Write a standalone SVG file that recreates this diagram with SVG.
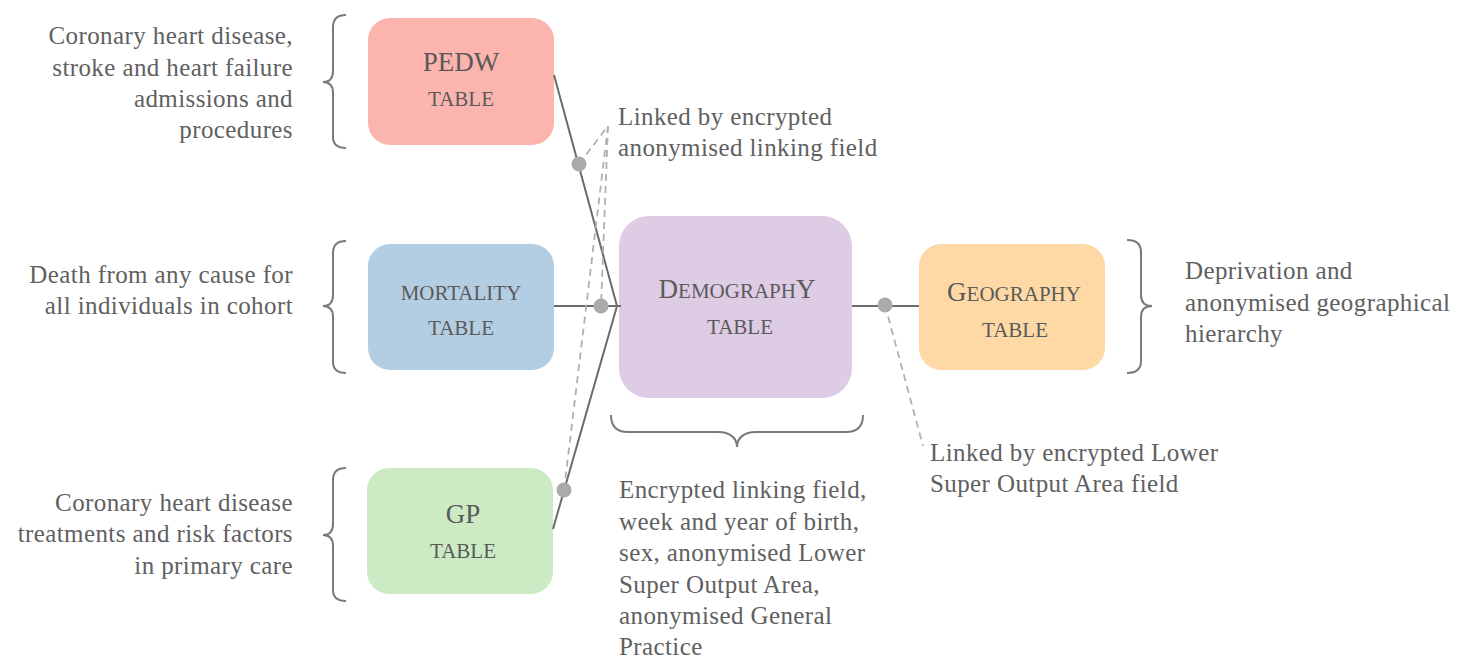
<svg xmlns="http://www.w3.org/2000/svg" width="1461" height="661" viewBox="0 0 1461 661">
  <style>
    .txt { font-family: "Liberation Serif", "Times New Roman", serif; font-size: 25px; fill: #606060; letter-spacing: 0.4px; }
    .end { text-anchor: end; }
    .lbl { font-family: "Liberation Serif", "Times New Roman", serif; fill: #5a5a5a; text-anchor: middle; }
    .big { font-size: 27px; }
    .sc { font-size: 21px; }
    .link { stroke: #6b6b6b; stroke-width: 2; fill: none; }
    .dash { stroke: #b0b0b0; stroke-width: 1.8; stroke-dasharray: 7 5; fill: none; }
    .dot { fill: #aaaaaa; }
    .brace { stroke: #7a7a7a; stroke-width: 2; fill: none; }
  </style>

  <!-- tables -->
  <g id="pedw">
    <rect x="368" y="18" width="186" height="127" rx="22" fill="#fbb4ae"/>
    <text class="lbl big" x="461" y="71">PEDW</text>
    <text class="lbl sc" x="461" y="106">TABLE</text>
  </g>
  <g id="mortality">
    <rect x="368" y="244" width="186" height="126" rx="22" fill="#b3cde3"/>
    <text class="lbl sc" x="461" y="300">MORTALITY</text>
    <text class="lbl sc" x="461" y="335">TABLE</text>
  </g>
  <g id="gp">
    <rect x="367" y="468" width="186" height="126" rx="22" fill="#ccebc5"/>
    <text class="lbl big" x="463" y="523">GP</text>
    <text class="lbl sc" x="463" y="558">TABLE</text>
  </g>
  <g id="demography">
    <rect x="619" y="216" width="233" height="182" rx="30" fill="#decbe4"/>
    <text class="lbl" x="737" y="298"><tspan class="big">D</tspan><tspan class="sc">EMOGRAPH</tspan><tspan class="big">Y</tspan></text>
    <text class="lbl sc" x="740" y="334">TABLE</text>
  </g>
  <g id="geography">
    <rect x="919" y="244" width="186" height="126" rx="22" fill="#fed9a6"/>
    <text class="lbl" x="1014" y="301"><tspan class="big">G</tspan><tspan class="sc">EOGRAPHY</tspan></text>
    <text class="lbl sc" x="1015" y="337">TABLE</text>
  </g>

  <!-- connectors -->
  <g id="connectors">
    <line class="link" x1="554" y1="75" x2="617" y2="306"/>
    <line class="link" x1="554" y1="306" x2="621" y2="306"/>
    <line class="link" x1="553" y1="529" x2="617" y2="306"/>
    <line class="link" x1="852" y1="306" x2="919" y2="306"/>
    <polyline class="dash" points="579,164 608,126"/>
    <line class="dash" x1="608" y1="126" x2="601" y2="306"/>
    <line class="dash" x1="608" y1="126" x2="564" y2="490"/>
    <line class="dash" x1="885" y1="305" x2="923" y2="446"/>
    <circle class="dot" cx="579" cy="164" r="7.5"/>
    <circle class="dot" cx="601" cy="306" r="7.5"/>
    <circle class="dot" cx="564" cy="490" r="7.5"/>
    <circle class="dot" cx="885" cy="305" r="7.5"/>
  </g>

  <!-- braces -->
  <g id="braces">
    <path class="brace" d="M346,15 C338,15 333,18 333,27 L333,71 C333,78 330,82 323,82 C330,82 333,86 333,93 L333,137 C333,145 338,148 346,148"/>
    <path class="brace" d="M346,241 C338,241 333,244 333,253 L333,295 C333,302 330,306 323,306 C330,306 333,310 333,317 L333,362 C333,370 338,373 346,373"/>
    <path class="brace" d="M346,468 C338,468 333,471 333,480 L333,524 C333,531 330,535 323,535 C330,535 333,539 333,546 L333,590 C333,598 338,601 346,601"/>
    <path class="brace" d="M1127,240 C1135,240 1141,243 1141,252 L1141,295 C1141,302 1145,306 1152,306 C1145,306 1141,310 1141,317 L1141,361 C1141,370 1135,373 1127,373"/>
    <path class="brace" d="M611,415 C611,426 616,432 628,432 L718,432 C730,432 737,438 737,447 C737,438 744,432 756,432 L846,432 C858,432 863,426 863,415"/>
  </g>

  <!-- descriptions -->
  <g id="notes">
    <text class="txt end" x="293" y="44">Coronary heart disease,</text>
    <text class="txt end" x="293" y="75.5">stroke and heart failure</text>
    <text class="txt end" x="293" y="107">admissions and</text>
    <text class="txt end" x="293" y="138">procedures</text>

    <text class="txt end" x="293" y="283">Death from any cause for</text>
    <text class="txt end" x="293" y="314">all individuals in cohort</text>

    <text class="txt end" x="293" y="511">Coronary heart disease</text>
    <text class="txt end" x="293" y="542">treatments and risk factors</text>
    <text class="txt end" x="293" y="574">in primary care</text>

    <text class="txt" x="618" y="125">Linked by encrypted</text>
    <text class="txt" x="618" y="156">anonymised linking field</text>

    <text class="txt" x="1185" y="279">Deprivation and</text>
    <text class="txt" x="1185" y="310.5">anonymised geographical</text>
    <text class="txt" x="1185" y="342">hierarchy</text>

    <text class="txt" x="619" y="498">Encrypted linking field,</text>
    <text class="txt" x="619" y="529.5">week and year of birth,</text>
    <text class="txt" x="619" y="561">sex, anonymised Lower</text>
    <text class="txt" x="619" y="592.5">Super Output Area,</text>
    <text class="txt" x="619" y="624">anonymised General</text>
    <text class="txt" x="619" y="655">Practice</text>

    <text class="txt" x="930" y="461">Linked by encrypted Lower</text>
    <text class="txt" x="930" y="492">Super Output Area field</text>
  </g>
</svg>
